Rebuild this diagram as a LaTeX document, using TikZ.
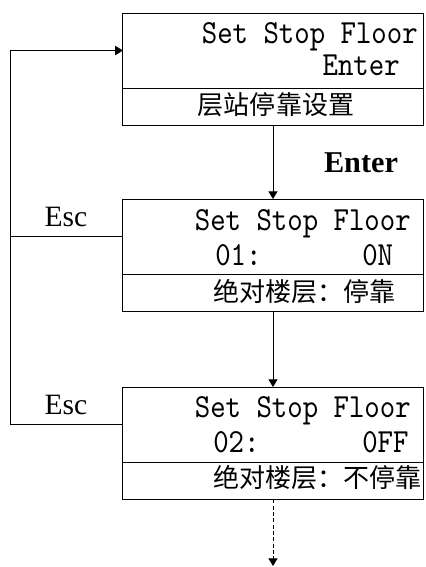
\documentclass[tikz,border=0pt]{standalone}
\usepackage{fontspec}
\setmainfont{Liberation Serif}
\newfontfamily\cjkfont{Noto Sans CJK SC}
\newfontfamily\lcdfont{lmmono10-regular.otf}[FakeStretch=0.87]
\usetikzlibrary{positioning, arrows.meta}

\begin{document}
\begin{tikzpicture}[
    x=0.025cm, y=-0.025cm,
    screen/.style  = {draw=black, line width=0.7pt, minimum width=7.5cm, minimum height=1.875cm, inner sep=0pt, outer sep=0pt},
    caption/.style = {draw=black, line width=0.7pt, minimum width=7.5cm, minimum height=0.93cm, inner sep=0pt, outer sep=0pt},
    lcd/.style     = {inner sep=0pt, font=\lcdfont\fontsize{24}{28}\selectfont},
    cn/.style      = {inner sep=0pt, font=\cjkfont\fontsize{18.5}{22}\selectfont},
    key/.style     = {inner sep=0pt, font=\fontsize{21}{25}\selectfont},
    wire/.style    = {line width=0.7pt},
    >={Triangle[length=5.5pt, width=6.5pt]}
]
\useasboundingbox (0,0) rectangle (426,567);

% screens, each with its caption strip below
\node[screen] (s1) at (273, 50.5) {};
\node[caption, below=0pt of s1] (c1) {};
\node[screen] (s2) at (273, 236.5) {};
\node[caption, below=0pt of s2] (c2) {};
\node[screen] (s3) at (273, 424.5) {};
\node[caption, below=0pt of s3] (c3) {};

% first screen
\node[lcd, anchor=base east] (t1a) at (418, 43) {Set Stop Floor};
\node[lcd, anchor=base east] (t1b) at (400, 75) {Enter};
\node[cn] (t1c) at (276, 105) {层站停靠设置};

% second screen
\node[lcd, anchor=base east] (t2a) at (411, 230) {Set Stop Floor};
\node[lcd, anchor=base west] (t2b) at (215, 265) {01:};
\node[lcd, anchor=base west] (t2c) at (362, 265) {0N};
\node[cn, anchor=west] (t2d) at (213, 292) {绝对楼层：停靠};

% third screen
\node[lcd, anchor=base east] (t3a) at (411, 417) {Set Stop Floor};
\node[lcd, anchor=base west] (t3b) at (213, 452) {02:};
\node[lcd, anchor=base west] (t3c) at (362, 452) {0FF};
\node[cn, anchor=west] (t3d) at (213, 478) {绝对楼层：不停靠};

% key labels
\node[key, font=\bfseries\fontsize{21.5}{25}\selectfont] (ent) at (361, 163) {Enter};
\node[key] (e2) at (66, 217) {Esc};
\node[key] (e3) at (66, 405) {Esc};

% Esc return line
\coordinate (bus) at (10, 0);
\draw[wire, ->] (s3.west) -- (s3.west -| bus) |- (s1.west);
\draw[wire] (s2.west) -- (s2.west -| bus);

% forward arrows
\draw[wire, ->] (c1.south) -- (s2.north);
\draw[wire, ->] (c2.south) -- (s3.north);
\coordinate (more) at (273, 566);
\draw[wire, ->, dash pattern=on 3pt off 1.5pt] (c3.south) -- (more);

\end{tikzpicture}
\end{document}
